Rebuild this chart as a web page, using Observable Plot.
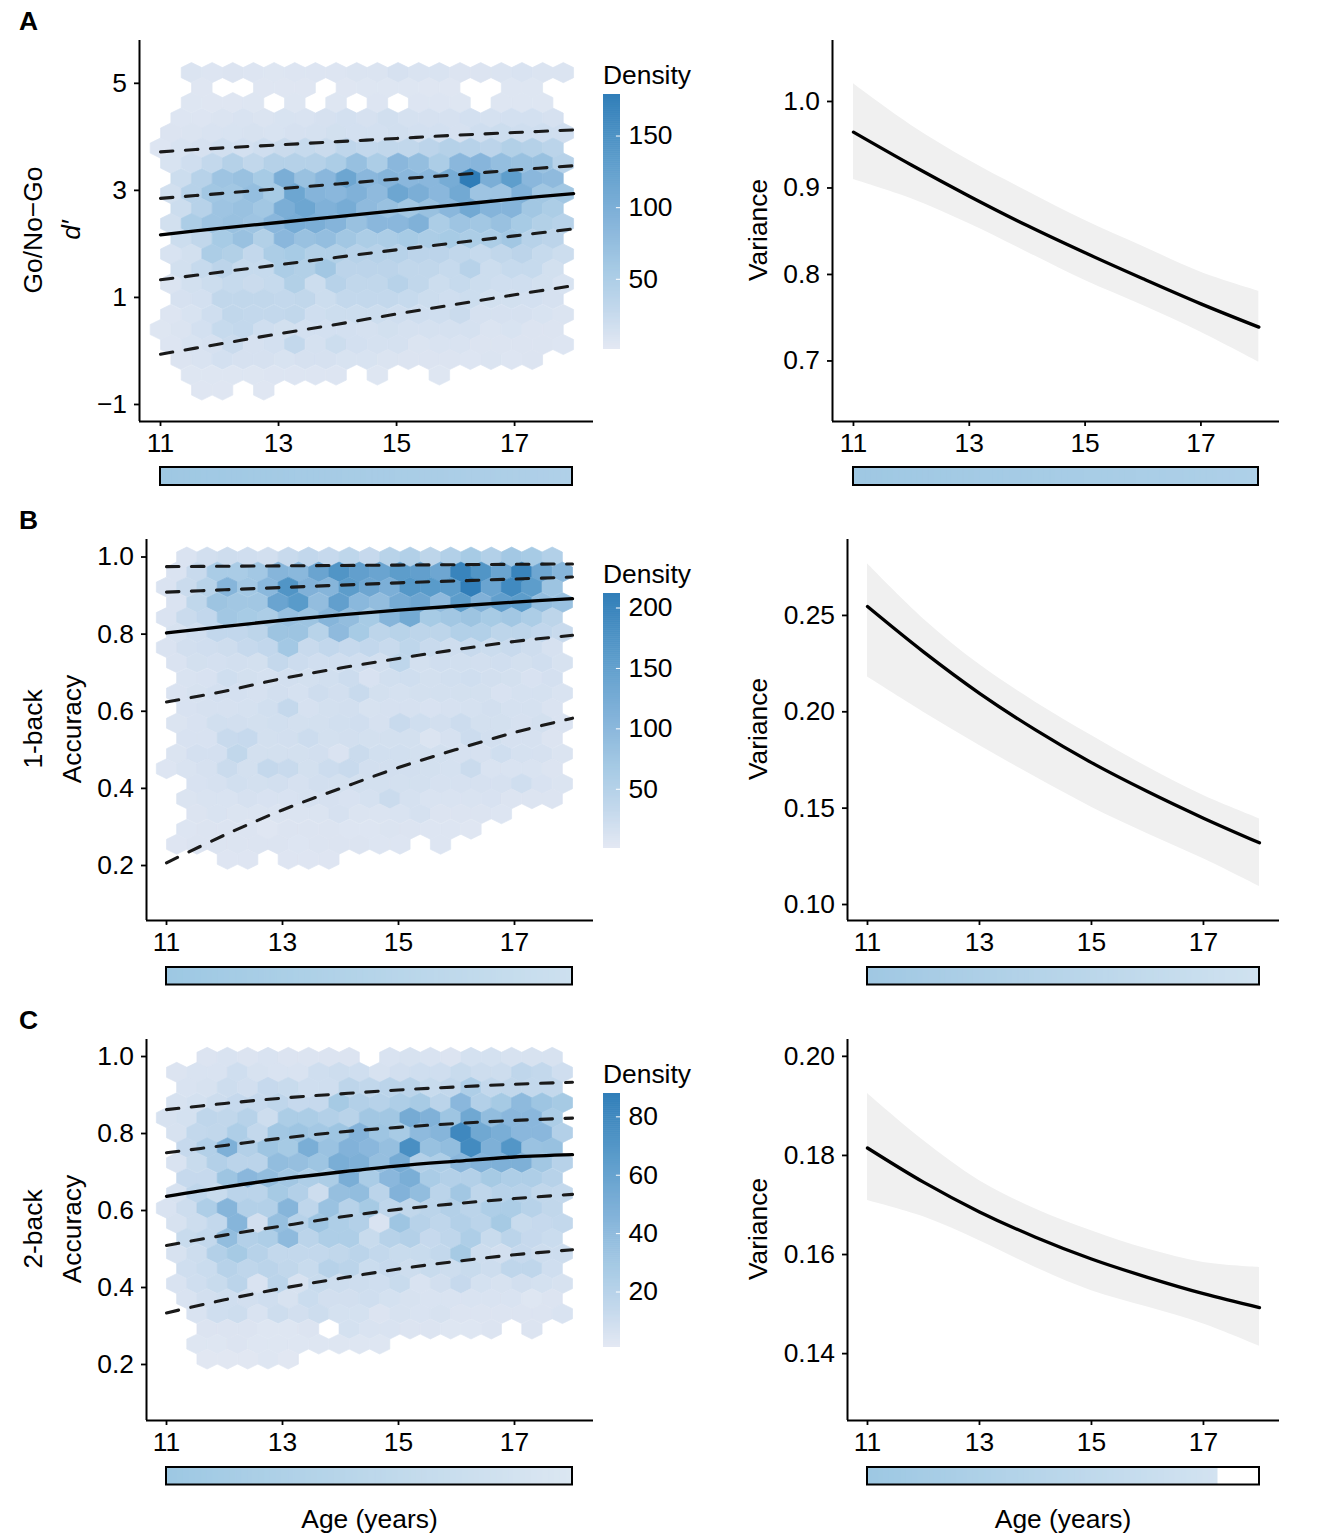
<!DOCTYPE html>
<html>
<head>
<meta charset="utf-8">
<script src="https://cdn.jsdelivr.net/npm/d3@7"></script>
<script src="https://cdn.jsdelivr.net/npm/@observablehq/plot@0.6"></script>
<style>
html,body{margin:0;padding:0;background:#fff;color:#000;}
#page{position:relative;width:1322px;height:1538px;font-family:"Liberation Sans",Arial,sans-serif;overflow:hidden;}
#page>div,#page>svg{position:absolute;}
</style>
</head>
<body>
<div id="page"></div>
<script>
// hexagon bin centres along age
const colsWhole = [11,11.35,11.7,12.05,12.4,12.75,13.1,13.45,13.8,14.15,14.5,14.85,15.2,15.55,15.9,16.25,16.6,16.95,17.3,17.65];
const colsHalf = [11.175,11.525,11.875,12.225,12.575,12.925,13.275,13.625,13.975,14.325,14.675,15.025,15.375,15.725,16.075,16.425,16.775,17.125,17.475,17.825];
const rowsA = [5.20,4.92,4.64,4.35,4.07,3.79,3.51,3.22,2.94,2.66,2.38,2.09,1.81,1.53,1.25,0.97,0.68,0.40,0.12,-0.16,-0.45,-0.73];
const rowsB = [1.000,0.961,0.922,0.882,0.843,0.804,0.765,0.726,0.686,0.647,0.608,0.569,0.530,0.490,0.451,0.412,0.373,0.334,0.294,0.255,0.216];
const rowsC = [0.998,0.959,0.920,0.880,0.841,0.802,0.763,0.724,0.684,0.645,0.606,0.567,0.528,0.488,0.449,0.410,0.371,0.332,0.292,0.253,0.214];

// Density per hexagon (0 = empty bin)
const hexA = [
[0,8,6,7,6,5,6,6,6,8,8,12,9,9,7,7,8,9,8,8],
[0,0,4,0,0,4,4,4,0,4,5,5,5,4,4,0,0,5,5,0],
[0,5,4,4,5,0,5,0,5,0,6,0,6,6,5,0,5,5,5,0],
[0,6,6,8,9,8,10,9,12,14,12,16,13,12,12,14,13,14,14,12],
[7,8,9,10,11,10,12,13,15,14,14,16,14,14,12,18,20,18,18,17],
[6,10,12,16,14,18,22,25,22,32,28,30,30,35,42,40,35,45,42,36],
[10,18,28,42,30,42,42,42,50,72,50,85,75,50,85,88,75,70,70,40],
[0,20,40,65,70,55,100,70,85,115,85,90,85,85,105,179,100,130,85,80],
[15,40,60,60,75,55,115,90,85,95,80,115,100,85,110,65,65,95,60,60],
[0,20,40,65,70,60,100,115,95,105,80,70,60,70,85,110,90,90,60,50],
[15,50,65,70,65,85,105,100,90,70,85,85,95,50,65,60,70,55,45,40],
[0,20,30,55,70,45,85,70,75,60,50,50,55,50,55,50,50,60,40,35],
[10,15,50,45,28,50,55,45,45,40,40,40,35,35,30,25,30,35,25,20],
[0,15,25,35,25,25,50,45,60,35,35,35,30,30,25,40,20,25,25,15],
[8,15,20,25,22,25,45,20,40,30,30,40,30,20,25,20,18,18,15,10],
[0,12,14,30,30,30,28,30,20,28,28,28,25,20,18,20,15,15,14,12],
[6,10,18,30,28,28,30,18,20,20,20,18,18,18,22,12,12,12,10,8],
[5,8,14,25,28,18,15,14,14,14,13,15,13,13,13,13,8,10,7,7],
[6,10,12,22,12,14,28,13,20,14,13,13,8,9,9,7,7,7,7,6],
[0,7,9,14,12,12,10,12,12,10,10,8,7,7,7,6,8,6,7,0],
[0,5,5,5,5,6,6,6,6,0,5,0,0,5,0,0,0,0,0,0],
[0,0,4,4,0,4,0,0,0,0,0,0,0,0,0,0,0,0,0,0]
];
const hexB = [
[0,10,18,22,20,18,28,34,30,38,30,46,52,40,52,65,52,70,65,52],
[10,28,62,62,70,105,100,140,170,150,140,155,150,135,200,170,140,200,135,105],
[10,26,45,105,70,100,170,112,105,155,135,118,165,160,155,210,140,190,155,78],
[10,36,78,72,72,140,160,90,150,100,90,125,135,95,155,112,150,155,90,82],
[10,26,34,72,65,60,85,78,105,90,65,105,128,65,72,78,65,72,60,40],
[13,20,34,34,40,78,78,46,95,65,40,46,40,40,52,52,40,40,34,28],
[10,18,20,22,30,34,70,28,34,30,34,28,38,28,22,28,25,28,22,14],
[10,17,16,18,17,32,24,20,20,20,18,38,17,20,19,18,20,17,20,13],
[0,11,12,21,17,15,18,17,19,24,12,19,21,17,19,21,18,17,12,16],
[10,13,16,16,14,18,15,22,18,28,17,15,17,17,17,17,12,15,15,11],
[0,12,14,14,15,19,32,14,17,18,13,14,14,12,14,15,18,15,15,10],
[9,12,19,18,17,19,17,17,19,20,14,28,21,18,24,17,17,14,17,10],
[0,12,12,28,30,17,18,24,17,18,17,17,17,9,14,24,18,14,14,8],
[9,16,16,35,17,17,17,18,10,26,19,19,17,17,14,14,21,15,14,9],
[7,11,14,26,17,32,28,17,24,28,18,18,18,17,15,26,11,11,11,8],
[0,12,14,19,17,18,14,18,17,17,17,17,17,14,14,14,14,21,12,9],
[0,9,11,11,14,12,12,14,14,12,15,26,15,11,11,11,12,8,8,8],
[0,8,11,9,9,9,9,9,14,9,9,11,15,8,8,8,7,0,0,0],
[0,7,8,8,8,5,8,8,8,7,7,9,8,7,7,5,0,0,0,0],
[6,8,8,8,8,8,7,8,8,8,7,7,0,7,0,0,0,0,0,0],
[0,0,0,6,6,0,6,6,6,0,0,0,0,0,0,0,0,0,0,0]
];
const hexC = [
[0,0,4,5,4,5,4,4,4,4,0,5,6,5,4,7,7,6,6,6],
[4,5,5,9,6,5,5,9,10,9,6,8,9,9,12,10,10,16,14,9],
[0,5,6,10,8,13,12,9,9,17,15,18,18,12,14,24,14,15,14,14],
[6,7,10,13,13,16,13,13,28,22,20,24,27,18,42,22,28,40,32,28],
[6,7,16,15,20,10,25,25,22,19,30,30,52,47,32,55,38,42,42,25],
[6,14,15,24,14,30,32,29,32,45,32,27,40,44,80,55,50,42,42,22],
[0,13,22,48,22,32,28,50,34,46,42,36,75,35,38,78,48,70,34,35],
[5,12,22,18,18,38,36,32,50,48,36,52,22,24,42,46,48,48,30,20],
[0,13,13,32,42,38,30,24,25,50,26,42,50,26,22,22,28,24,24,20],
[6,16,12,18,18,28,22,10,36,38,18,46,38,18,30,16,20,20,15,14],
[5,10,24,44,22,22,44,16,34,20,28,16,15,18,22,18,24,25,20,15],
[6,10,14,44,8,36,20,32,24,22,5,32,20,16,22,18,28,12,13,14],
[0,12,14,38,22,24,40,18,24,24,12,20,22,13,16,24,12,18,13,11],
[6,10,22,28,20,14,14,14,15,18,14,12,12,14,28,10,8,13,10,10],
[0,9,11,20,16,18,15,12,20,18,11,13,10,12,10,12,10,16,16,9],
[5,9,12,18,5,18,6,12,10,10,9,12,5,8,13,7,6,8,7,6],
[0,5,8,9,8,9,6,11,8,8,9,7,6,5,5,5,5,5,3,4],
[0,5,9,10,5,10,8,10,7,7,4,6,5,6,4,4,4,4,4,5],
[0,0,4,4,4,3,3,4,0,7,5,5,4,4,3,3,4,0,4,0],
[0,3,3,4,3,3,3,3,3,3,3,0,0,0,0,0,0,0,0,0],
[0,0,2,2,2,3,2,0,0,0,0,0,0,0,0,0,0,0,0,0]
];

const ages = [11,12,13,14,15,16,17,18];

// centile curves, left column
const curvesA = [
 [3.72,3.79,3.85,3.91,3.97,4.03,4.08,4.13],
 [2.85,2.94,3.03,3.12,3.21,3.29,3.38,3.46],
 [1.33,1.47,1.61,1.75,1.89,2.02,2.15,2.28],
 [-0.06,0.13,0.32,0.50,0.69,0.87,1.05,1.22]];
const medianA = [2.17,2.29,2.40,2.51,2.62,2.73,2.84,2.94];
const curvesB = [
 [0.975,0.976,0.977,0.978,0.979,0.980,0.981,0.982],
 [0.909,0.915,0.921,0.927,0.933,0.938,0.943,0.948],
 [0.624,0.652,0.685,0.712,0.737,0.760,0.781,0.797],
 [0.207,0.279,0.344,0.400,0.454,0.501,0.545,0.582]];
const medianB = [0.803,0.820,0.836,0.850,0.862,0.873,0.883,0.892];
const curvesC = [
 [0.862,0.878,0.892,0.903,0.913,0.921,0.928,0.933],
 [0.750,0.769,0.788,0.804,0.816,0.826,0.834,0.840],
 [0.509,0.536,0.560,0.583,0.603,0.618,0.631,0.642],
 [0.334,0.368,0.398,0.424,0.448,0.468,0.485,0.498]];
const medianC = [0.637,0.661,0.682,0.700,0.716,0.728,0.739,0.745];

// variance, right column
const varA = [0.9645,0.9265,0.8905,0.8565,0.8250,0.7950,0.7660,0.7391];
const varAHi = [1.0204,0.9723,0.9318,0.8963,0.8624,0.8324,0.8027,0.7807];
const varALo = [0.9098,0.8875,0.8586,0.8258,0.7931,0.7642,0.7333,0.6987];
const varB = [0.2546,0.2311,0.2096,0.1906,0.1736,0.1586,0.1448,0.1320];
const varBHi = [0.2768,0.2482,0.2245,0.2050,0.1877,0.1713,0.1566,0.1445];
const varBLo = [0.2180,0.1998,0.1825,0.1661,0.1505,0.1367,0.1237,0.1093];
const varC = [0.1815,0.1746,0.1686,0.1635,0.1591,0.1554,0.1521,0.1493];
const varCHi = [0.1925,0.1830,0.1749,0.1692,0.1648,0.1611,0.1584,0.1574];
const varCLo = [0.1709,0.1676,0.1628,0.1574,0.1527,0.1494,0.1460,0.1415];

const ageTicks = [11,13,15,17];
const ticksA = [-1,1,3,5];
const ticksAcc = [0.2,0.4,0.6,0.8,1.0];
const ticksVarA = [0.7,0.8,0.9,1.0];
const ticksVarB = [0.10,0.15,0.20,0.25];
const ticksVarC = [0.14,0.16,0.18,0.20];
const legendA = [50,100,150];
const legendB = [50,100,150,200];
const legendC = [20,40,60,80];

const blues = ["#e3e8f3","#c3d8ec","#a8cbe5","#85b4da","#5a9bca","#2f7db8"];
const stops = [0,0.15,0.3,0.5,0.75,1];
const page = document.getElementById("page");
const FONT = '"Liberation Sans",Arial,sans-serif';
const FS = 26.4;

const flatHexagon = {draw(ctx, size){
  const rx = Math.sqrt(size/Math.PI), ry = rx*0.98, h = ry/2;
  ctx.moveTo(0,ry); ctx.lineTo(rx,h); ctx.lineTo(rx,-h); ctx.lineTo(0,-ry); ctx.lineTo(-rx,-h); ctx.lineTo(-rx,h); ctx.closePath();
}};

function place(node,left,top){ node.style.position="absolute"; node.style.left=left+"px"; node.style.top=top+"px"; page.appendChild(node); }

const ML=60, MR=10, MT=10, MB=45;
function colorScale(maxD){ return {type:"linear",domain:stops.map(s=>1+s*(maxD-1)),range:blues}; }

function frame(px,py,xd,yd,marks,yTicks,yFmt,extra){
  const node = Plot.plot({
    width:(px[1]-px[0])+ML+MR, height:(py[1]-py[0])+MT+MB,
    marginLeft:ML,marginRight:MR,marginTop:MT,marginBottom:MB,
    x:{domain:xd}, y:{domain:yd},
    style:{fontFamily:FONT,fontSize:FS+"px",background:"transparent",overflow:"visible",color:"#000"},
    ...extra,
    marks:[
      ...marks,
      Plot.ruleX([xd[0]],{stroke:"#000",strokeWidth:2}),
      Plot.ruleY([yd[0]],{stroke:"#000",strokeWidth:2}),
      Plot.axisX({ticks:ageTicks,tickFormat:"d",tickSize:5,tickPadding:7,fontSize:FS,strokeWidth:1.8,label:null}),
      Plot.axisY({ticks:yTicks,tickFormat:yFmt,tickSize:5,tickPadding:7.5,fontSize:FS,strokeWidth:1.8,label:null})
    ]});
  place(node,px[0]-ML,py[0]-MT);
}

function hexPanel(px,py,xd,yd,rows,hex,firstWhole,curves,median,yTicks,yFmt,maxD,r){
  const cells=[];
  hex.forEach((row,i)=>{
    const cols=((i%2===0)===firstWhole)?colsWhole:colsHalf;
    row.forEach((d,j)=>{ if(d>0) cells.push({x:cols[j],y:rows[i],d}); });
  });
  frame(px,py,xd,yd,[
    Plot.dot(cells,{x:"x",y:"y",fill:"d",stroke:"d",strokeWidth:0.7,r,symbol:flatHexagon}),
    ...curves.map(c=>Plot.lineY(c,{x:ages,curve:"catmull-rom",stroke:"#1a1a1a",strokeWidth:3.1,strokeDasharray:"12.5,12.5"})),
    Plot.lineY(median,{x:ages,curve:"catmull-rom",stroke:"#000",strokeWidth:3.3})
  ],yTicks,yFmt,{color:colorScale(maxD)});
}

function varPanel(px,py,xd,yd,line,hi,lo,yTicks,yFmt){
  frame(px,py,xd,yd,[
    Plot.areaY(hi,{x:ages,y1:lo,y2:hi,curve:"catmull-rom",fill:"#f0f0f0"}),
    Plot.lineY(line,{x:ages,curve:"catmull-rom",stroke:"#000",strokeWidth:3.3})
  ],yTicks,yFmt,{});
}

function ageBar(px,top,bottom,c0,c1,end){
  const ends = end||18;
  const seg = d3.range(11,ends,0.1);
  const node = Plot.plot({
    width:(px[1]-px[0])+20, height:(bottom-top)+12, marginLeft:10,marginRight:10,marginTop:6,marginBottom:6,
    x:{domain:[11,18],axis:null}, y:{domain:[0,1],axis:null},
    color:{type:"linear",domain:[11,ends],range:[c0,c1]},
    style:{background:"transparent",overflow:"visible"},
    marks:[
      Plot.rect(seg,{x1:d=>d,x2:d=>Math.min(d+0.12,ends),y1:0,y2:1,fill:d=>d,stroke:d=>d,strokeWidth:1}),
      Plot.rect([0],{x1:11,x2:18,y1:0,y2:1,fill:"none",stroke:"#000",strokeWidth:2})
    ]});
  place(node,px[0]-10,top-6);
}

function densityBar(top,bottom,maxD,ticks){
  const step = (maxD-1)/128;
  const bins = d3.range(1,maxD,step);
  const node = Plot.plot({
    width:112,height:(bottom-top)+10,marginLeft:0,marginRight:95,marginTop:5,marginBottom:5,
    x:{domain:[0,1],axis:null}, y:{domain:[1,maxD]},
    color:colorScale(maxD),
    style:{fontFamily:FONT,fontSize:FS+"px",background:"transparent",overflow:"visible",color:"#000"},
    marks:[
      Plot.rect(bins,{x1:0,x2:1,y1:d=>d,y2:d=>Math.min(d+step*1.3,maxD),fill:d=>d}),
      Plot.ruleY(ticks,{x1:0.76,x2:1,stroke:"#fff",strokeWidth:1}),
      Plot.axisY({anchor:"right",ticks,tickFormat:"d",tickSize:0,tickPadding:8,fontSize:FS,label:null})
    ]});
  place(node,603,top-5);
}

// Row A
hexPanel([139,593],[40,421],[10.644,18.337],[-1.318,5.80],rowsA,hexA,false,curvesA,medianA,ticksA,"d",179,10.28);
varPanel([832,1279],[40,421],[10.638,18.357],[0.630,1.0705],varA,varAHi,varALo,ticksVarA,".1f");
densityBar(94,349,179,legendA);
ageBar([160,572],467,485,"#9fc8e3","#b0d0e8");
ageBar([853,1258],467,485,"#9fc8e3","#aed0e8");
// Row B
hexPanel([146,593],[539,920],[10.655,18.362],[0.0574,1.0454],rowsB,hexB,true,curvesB,medianB,ticksAcc,".1f",212,10.15);
varPanel([847,1279],[539,920],[10.643,18.358],[0.0917,0.2894],varB,varBHi,varBLo,ticksVarB,".2f");
densityBar(593,848,212,legendB);
ageBar([166,572],966.5,984,"#9dc8e3","#cde0ef");
ageBar([867,1259],966.5,984,"#a0c8e3","#d0e2f0");
// Row C
hexPanel([146,593],[1039,1420],[10.655,18.362],[0.0545,1.0442],rowsC,hexC,true,curvesC,medianC,ticksAcc,".1f",88,10.15);
varPanel([847,1279],[1039,1420],[10.643,18.358],[0.1265,0.2034],varC,varCHi,varCLo,ticksVarC,".2f");
densityBar(1093,1347,88,legendC);
ageBar([166,572],1466.5,1484,"#9dc8e3","#dce7f2");
ageBar([867,1259],1466.5,1484,"#9dc8e3","#d3e3f1",17.25);

// Text overlay
const overlay = d3.select(page).append("svg").attr("width",1322).attr("height",1538)
  .style("left","0").style("top","0").style("pointer-events","none").style("font-family",FONT).style("font-size",FS+"px");
function txt(s,x,y,opt={}){
  const t = overlay.append("text").text(s).attr("fill","#000");
  if(opt.rot) t.attr("transform",`translate(${x},${y}) rotate(-90)`).attr("text-anchor","middle");
  else t.attr("x",x).attr("y",y).attr("text-anchor",opt.anchor||"start");
  if(opt.bold) t.attr("font-weight","bold");
  if(opt.italic) t.attr("font-style","italic");
}
txt("A",19,30,{bold:true}); txt("B",19,529,{bold:true}); txt("C",19,1029,{bold:true});
txt("Go/No\u2212Go",41.5,230,{rot:true}); txt("d\u2032",80,230,{rot:true,italic:true});
txt("1-back",41.5,729,{rot:true}); txt("Accuracy",81,729,{rot:true});
txt("2-back",41.5,1229,{rot:true}); txt("Accuracy",81,1229,{rot:true});
txt("Variance",767,230,{rot:true}); txt("Variance",767,729,{rot:true}); txt("Variance",767,1229,{rot:true});
txt("Density",603,84); txt("Density",603,583); txt("Density",603,1083);
txt("Age (years)",369.5,1528,{anchor:"middle"}); txt("Age (years)",1063,1528,{anchor:"middle"});
</script>
</body>
</html>
